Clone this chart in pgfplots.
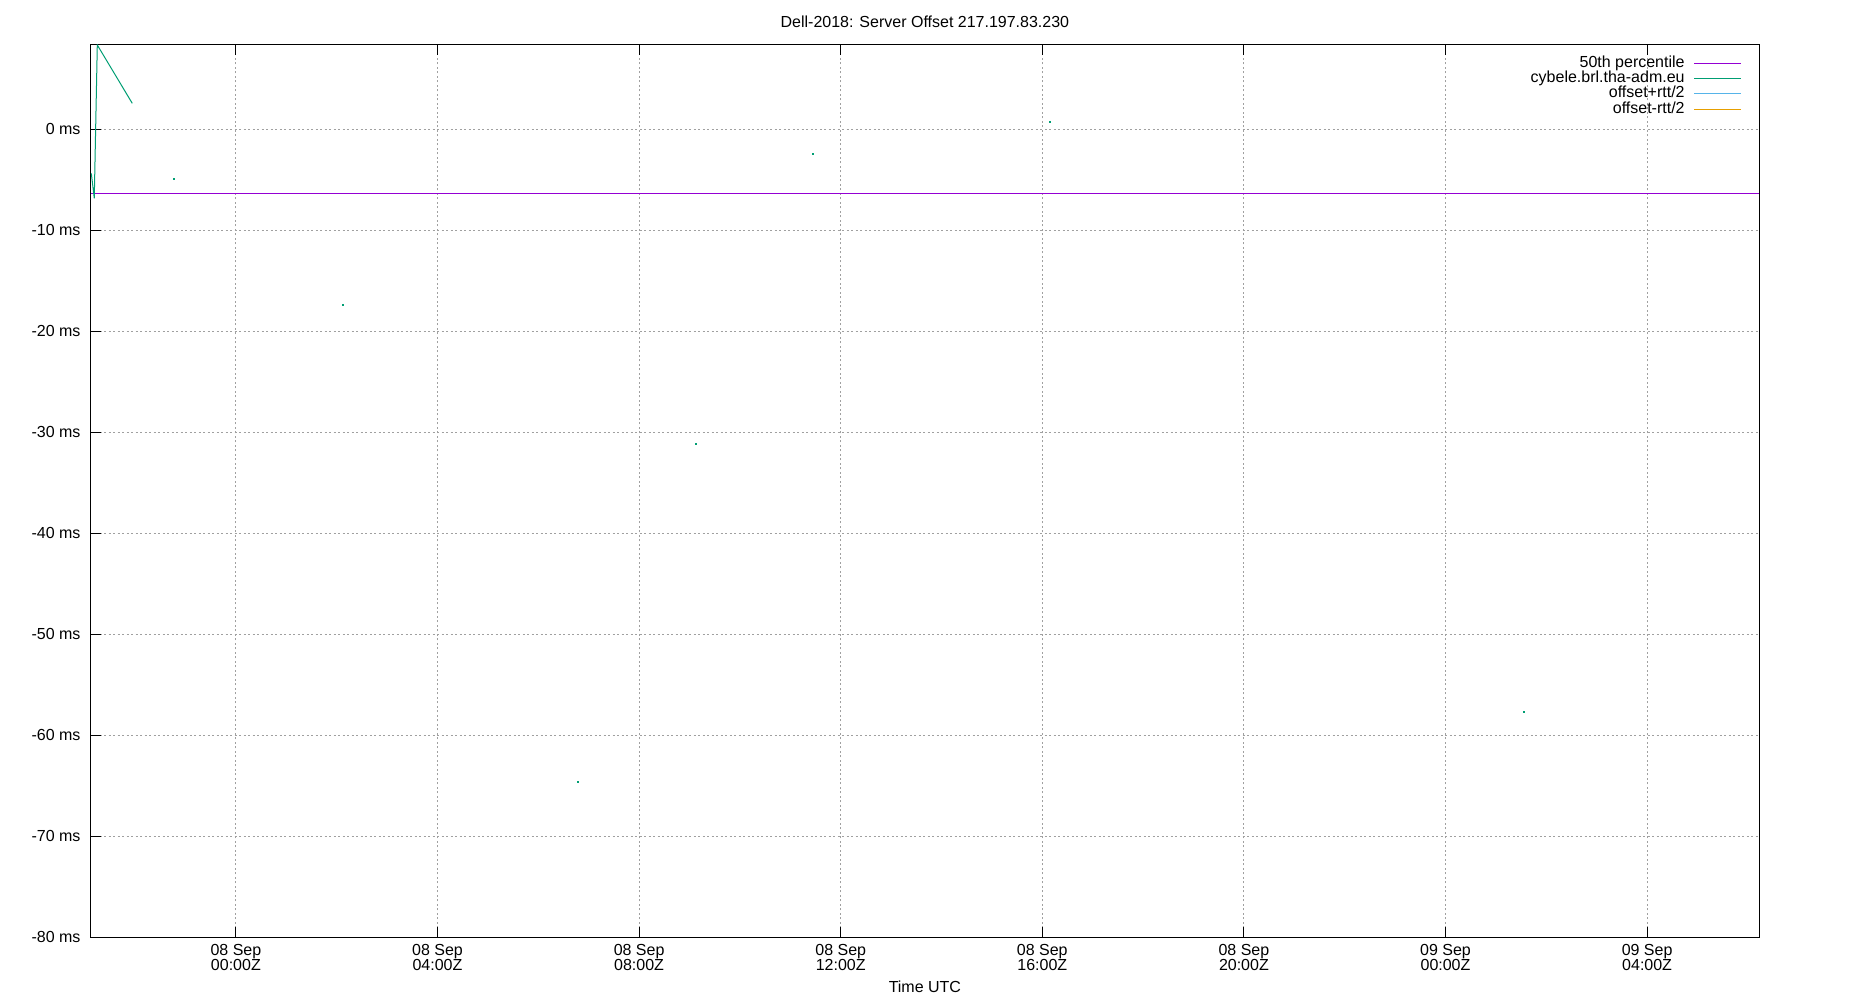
\documentclass[border=0pt]{standalone}
\usepackage{fontspec}
\setmainfont{Liberation Sans}
\usepackage{pgfplots}
\pgfplotsset{compat=1.18}

\definecolor{gpviolet}{RGB}{148,0,211}
\definecolor{gpgreen}{RGB}{0,158,115}
\definecolor{gpblue}{RGB}{86,180,233}
\definecolor{gporange}{RGB}{230,159,0}
\definecolor{gridgray}{RGB}{160,160,160}

\begin{document}
\begin{tikzpicture}[x=1pt,y=1pt,font=\fontsize{16}{15}\selectfont]
\useasboundingbox (0,0) rectangle (1850,1000);
\begin{axis}[
  at={(90.5pt,62.7pt)}, anchor=south west,
  scale only axis, width=1668.8pt, height=892.3pt,
  xmin=-2.885, xmax=30.226,
  ymin=-80, ymax=8.35,
  axis line style={line width=1pt},
  tick align=inside,
  major tick length=10.5pt,
  tick style={black, line width=1pt},
  xtick pos=both, ytick pos=left,
  grid=major,
  major grid style={gridgray, line width=1pt, dash pattern=on 2pt off 2.5pt},
  xtick={0,4,8,12,16,20,24,28},
  xticklabels={{08 Sep\\00:00Z},{08 Sep\\04:00Z},{08 Sep\\08:00Z},{08 Sep\\12:00Z},
               {08 Sep\\16:00Z},{08 Sep\\20:00Z},{09 Sep\\00:00Z},{09 Sep\\04:00Z}},
  xticklabel style={align=center, anchor=north, inner sep=0pt, yshift=-6.5pt},
  ytick={-80,-70,-60,-50,-40,-30,-20,-10,0},
  yticklabels={-80 ms,-70 ms,-60 ms,-50 ms,-40 ms,-30 ms,-20 ms,-10 ms,0 ms},
  yticklabel style={anchor=east, inner sep=0pt, xshift=-9.8pt},
  title={Dell-2018: Server Offset 217.197.83.230},
  title style={at={(0.5,1)}, anchor=base, inner sep=0pt, yshift=11.5pt},
  xlabel={Time UTC},
  xlabel style={at={(0.5,0)}, anchor=base, inner sep=0pt, yshift=-55pt},
  legend cell align=right,
  legend plot pos=right,
  legend image code/.code={\draw[#1] (0pt,0pt) -- (46.7pt,0pt);},
  legend style={draw=none, fill=none, at={(1,1)}, anchor=north east,
    xshift=-17.6pt, yshift=-10.7pt, inner sep=0pt, outer sep=0pt,
    row sep=0pt, column sep=9pt,
    nodes={inner sep=0pt, text height=11.5pt, text depth=3.8pt}},
]
\addplot[gpviolet, line width=1.4pt] coordinates {(-2.885,-6.34) (30.226,-6.34)};
\addlegendentry{50th percentile}
\addplot[gpgreen, line width=1pt] coordinates {
  (-2.869,-4.36) (-2.810,-6.83) (-2.750,8.35) (-2.056,2.57)
};
\addlegendentry{cybele.brl.tha-adm.eu}
\addplot[gpgreen, only marks, mark=square*, mark size=0.5pt, forget plot] coordinates {
  (-1.242,-4.85) (2.111,-17.33) (6.774,-64.55) (9.115,-31.13)
  (11.437,-2.38) (16.139,0.79) (25.544,-57.62)
};
\addlegendimage{gpblue, line width=1pt}
\addlegendentry{offset+rtt/2}
\addlegendimage{gporange, line width=1pt}
\addlegendentry{offset-rtt/2}
\end{axis}
\end{tikzpicture}
\end{document}
